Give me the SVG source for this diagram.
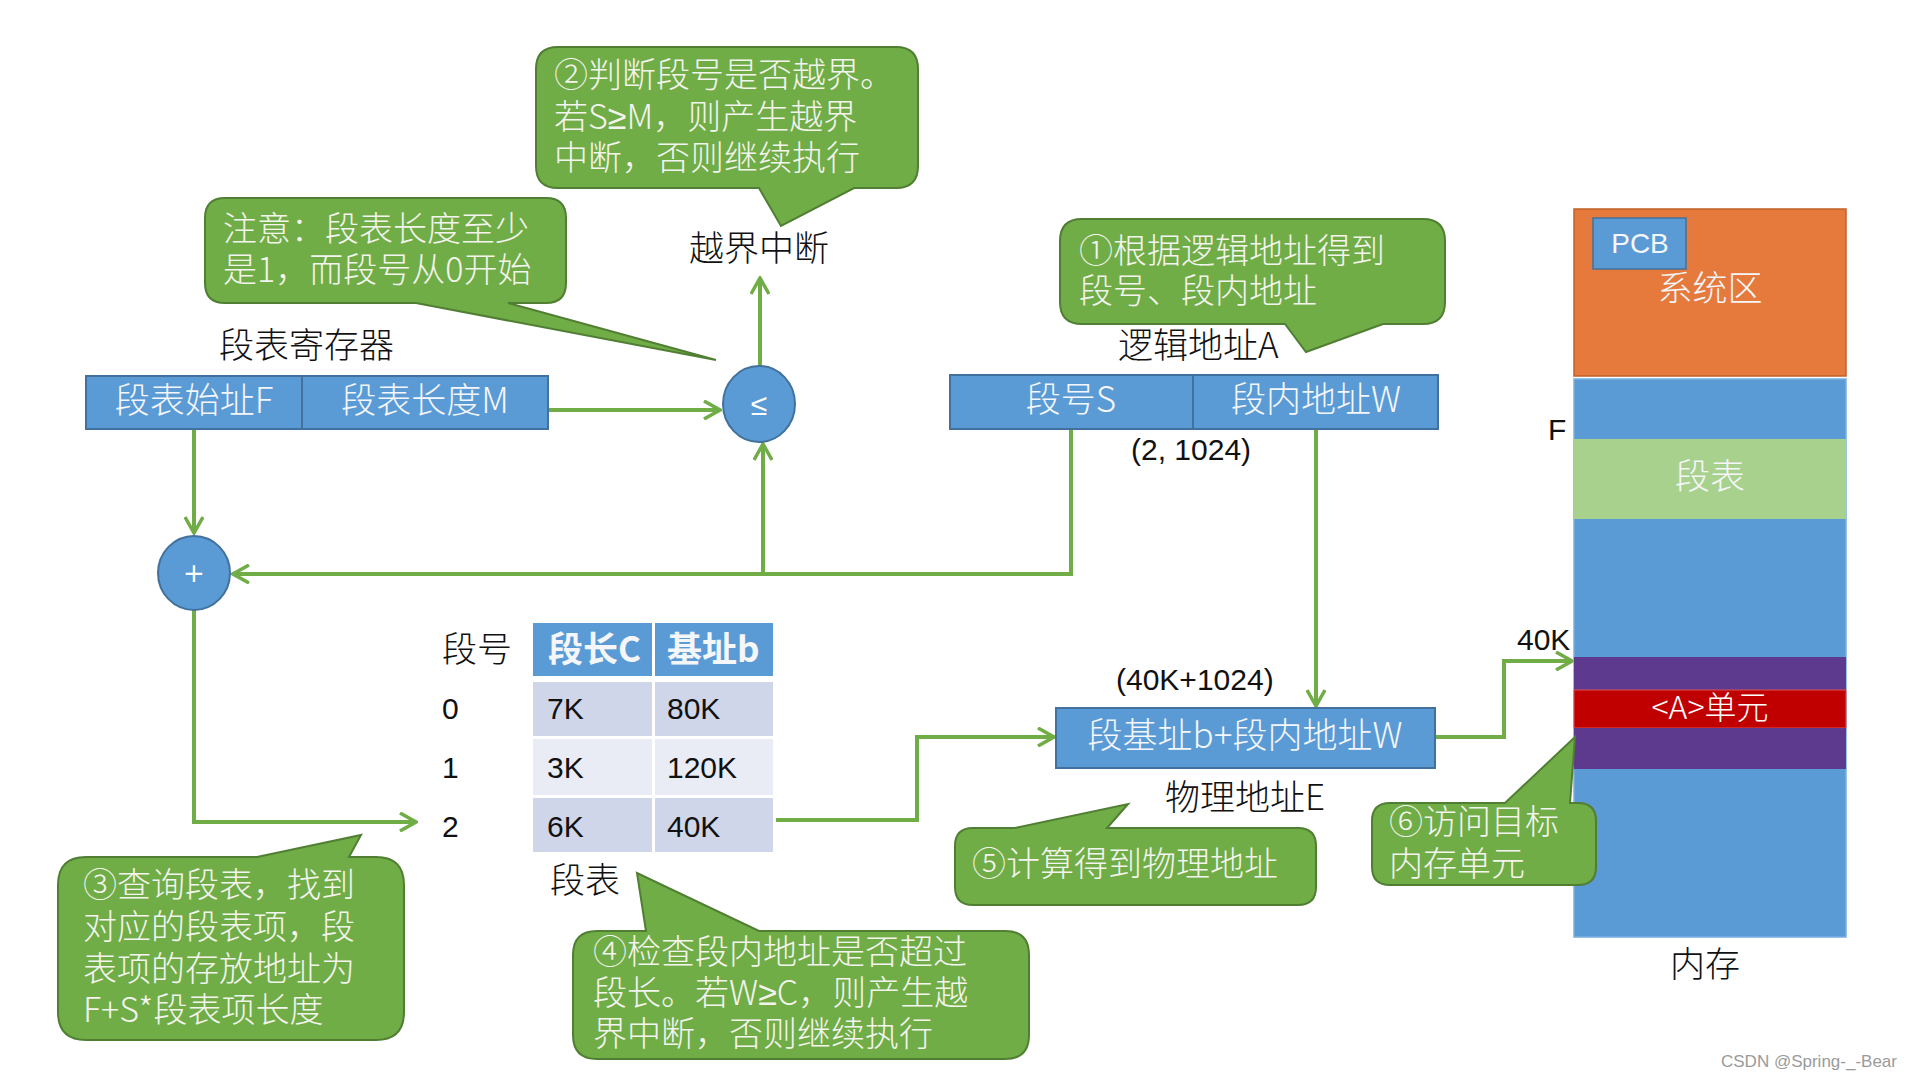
<svg xmlns="http://www.w3.org/2000/svg" width="1920" height="1080" viewBox="0 0 1920 1080">
<defs>
<style>
.cjk{font-family:"Noto Sans CJK SC","Noto Sans",sans-serif;font-weight:300}
.bub{fill:#70ad47;stroke:#507e32;stroke-width:2}
.bt{font-family:"Noto Sans CJK SC","Noto Sans",sans-serif;font-weight:300;font-size:34px;fill:#f4f4ee}
.lbl{font-family:"Noto Sans CJK SC","Noto Sans",sans-serif;font-weight:300;font-size:35px;fill:#111}
.num{font-family:"Liberation Sans","DejaVu Sans",sans-serif;font-size:30px;fill:#111}
.box{fill:#5b9bd5;stroke:#41719c;stroke-width:2}
.wt{font-family:"Noto Sans CJK SC","Noto Sans",sans-serif;font-weight:300;font-size:35px;fill:#f4f6fa}
.con{fill:none;stroke:#70ad47;stroke-width:4}
.ge{font-family:"Liberation Sans","DejaVu Sans",sans-serif}
</style>
<marker id="ah" viewBox="0 0 20 20" refX="18" refY="10" markerWidth="20" markerHeight="20" markerUnits="userSpaceOnUse" orient="auto">
<path d="M2,1 L18,10 L2,19" fill="none" stroke="#70ad47" stroke-width="3.5"/>
</marker>
</defs>
<rect width="1920" height="1080" fill="#ffffff"/>

<g id="connectors">
<path class="con" d="M548,410 H720" marker-end="url(#ah)"/>
<path class="con" d="M760,366 V278" marker-end="url(#ah)"/>
<path class="con" d="M194,429 V533" marker-end="url(#ah)"/>
<path class="con" d="M1071,429 V574 H233" marker-end="url(#ah)"/>
<path class="con" d="M763,574 V444" marker-end="url(#ah)"/>
<path class="con" d="M1316,429 V706" marker-end="url(#ah)"/>
<path class="con" d="M194,610 V822 H416" marker-end="url(#ah)"/>
<path class="con" d="M776,820 H917 V737 H1054" marker-end="url(#ah)"/>
<path class="con" d="M1435,737 H1504 V661 H1572" marker-end="url(#ah)"/>
</g>

<g id="bubble2">
<path class="bub" d="M558,47 H896 Q918,47 918,69 V166 Q918,188 896,188 H854 L781,226 L759,188 H558 Q536,188 536,166 V69 Q536,47 558,47 Z"/>
<text class="bt" x="554" y="87">②判断段号是否越界。</text>
<text class="bt" x="554" y="129">若S<tspan class="ge">≥</tspan>M，则产生越界</text>
<text class="bt" x="554" y="170">中断，否则继续执行</text>
</g>

<g id="overflow-label"><text class="lbl" x="689" y="261">越界中断</text></g>

<g id="bubble-note">
<path class="bub" d="M225,198 H546 Q566,198 566,218 V283 Q566,303 546,303 H508 L716,360 L416,303 H225 Q205,303 205,283 V218 Q205,198 225,198 Z"/>
<text class="bt" x="223" y="241">注意：段表长度至少</text>
<text class="bt" x="223" y="282">是1，而段号从0开始</text>
</g>

<g id="register">
<text class="lbl" x="219" y="358">段表寄存器</text>
<rect class="box" x="86" y="376" width="216" height="53"/>
<rect class="box" x="302" y="376" width="246" height="53"/>
<text class="wt" x="194" y="413" text-anchor="middle">段表始址F</text>
<text class="wt" x="425" y="413" text-anchor="middle">段表长度M</text>
</g>

<g id="compare">
<ellipse class="box" cx="759" cy="404" rx="36" ry="38"/>
<text x="759" y="415" text-anchor="middle" font-family="Liberation Sans, sans-serif" font-size="30" fill="#ffffff">≤</text>
</g>

<g id="adder">
<ellipse class="box" cx="194" cy="573" rx="36" ry="37"/>
<text x="194" y="582" text-anchor="middle" font-family="DejaVu Sans, sans-serif" font-size="26" fill="#ffffff">+</text>
</g>

<g id="logical">
<text class="lbl" x="1118" y="358">逻辑地址A</text>
<rect class="box" x="950" y="375" width="243" height="54"/>
<rect class="box" x="1193" y="375" width="245" height="54"/>
<text class="wt" x="1071" y="412" text-anchor="middle">段号S</text>
<text class="wt" x="1316" y="412" text-anchor="middle">段内地址W</text>
<text class="num" x="1131" y="460">(2, 1024)</text>
</g>

<g id="bubble1">
<path class="bub" d="M1082,219 H1423 Q1445,219 1445,241 V302 Q1445,324 1423,324 H1383 L1306,352 L1285,324 H1082 Q1060,324 1060,302 V241 Q1060,219 1082,219 Z"/>
<text class="bt" x="1079" y="263">①根据逻辑地址得到</text>
<text class="bt" x="1079" y="303">段号、段内地址</text>
</g>

<g id="segtable">
<text class="lbl" x="442" y="662">段号</text>
<rect x="533" y="623" width="119" height="53" fill="#5b9bd5"/>
<rect x="655" y="623" width="118" height="53" fill="#5b9bd5"/>
<text class="wt" x="548" y="662" style="font-weight:700">段长C</text>
<text class="wt" x="667" y="662" style="font-weight:700">基址b</text>
<rect x="533" y="682" width="119" height="54" fill="#cfd6ea"/>
<rect x="655" y="682" width="118" height="54" fill="#cfd6ea"/>
<rect x="533" y="739" width="119" height="56" fill="#e9ecf5"/>
<rect x="655" y="739" width="118" height="56" fill="#e9ecf5"/>
<rect x="533" y="798" width="119" height="54" fill="#cfd6ea"/>
<rect x="655" y="798" width="118" height="54" fill="#cfd6ea"/>
<text class="num" x="442" y="719">0</text>
<text class="num" x="547" y="719">7K</text>
<text class="num" x="667" y="719">80K</text>
<text class="num" x="442" y="778">1</text>
<text class="num" x="547" y="778">3K</text>
<text class="num" x="667" y="778">120K</text>
<text class="num" x="442" y="837">2</text>
<text class="num" x="547" y="837">6K</text>
<text class="num" x="667" y="837">40K</text>
<text class="lbl" x="550" y="893">段表</text>
</g>

<g id="physical">
<text class="num" x="1116" y="690">(40K+1024)</text>
<rect class="box" x="1056" y="708" width="379" height="60"/>
<text class="wt" x="1245" y="748" text-anchor="middle">段基址b+段内地址W</text>
<text class="lbl" x="1165" y="810">物理地址E</text>
</g>

<g id="bubble5">
<path class="bub" d="M973,828 H1015 L1128,804 L1107,828 H1298 Q1316,828 1316,846 V887 Q1316,905 1298,905 H973 Q955,905 955,887 V846 Q955,828 973,828 Z"/>
<text class="bt" x="972" y="876">⑤计算得到物理地址</text>
</g>

<g id="memory">
<rect x="1574" y="209" width="272" height="167" fill="#e57a3c" stroke="#c0622a" stroke-width="1.5"/>
<rect x="1593" y="218" width="93" height="51" fill="#5b9bd5" stroke="#41719c" stroke-width="1.5"/>
<text x="1640" y="253" text-anchor="middle" font-family="Liberation Sans, sans-serif" font-size="28" fill="#f4f6fa">PCB</text>
<text class="wt" x="1710" y="301" text-anchor="middle">系统区</text>
<rect x="1574" y="379" width="272" height="558" fill="#5b9bd5" stroke="#7aaee0" stroke-width="1.5"/>
<rect x="1574" y="439" width="272" height="80" fill="#a9d18e"/>
<text class="wt" x="1710" y="489" text-anchor="middle">段表</text>
<rect x="1574" y="657" width="272" height="33" fill="#5e3a8f"/>
<rect x="1574" y="690" width="272" height="38" fill="#c00000" stroke="#e05050" stroke-width="1"/>
<rect x="1574" y="728" width="272" height="41" fill="#5e3a8f"/>
<text x="1710" y="719" text-anchor="middle" class="cjk" font-size="32" fill="#ffffff">&lt;A&gt;单元</text>
<text class="num" x="1548" y="440">F</text>
<text class="num" x="1517" y="650">40K</text>
<text class="lbl" x="1670" y="977">内存</text>
</g>

<g id="bubble6">
<path class="bub" d="M1390,803 H1505 L1575,737 L1570,803 H1578 Q1596,803 1596,821 V867 Q1596,885 1578,885 H1390 Q1372,885 1372,867 V821 Q1372,803 1390,803 Z"/>
<text class="bt" x="1389" y="834">⑥访问目标</text>
<text class="bt" x="1389" y="876">内存单元</text>
</g>

<g id="bubble3">
<path class="bub" d="M86,857 H257 L361,835 L349,857 H376 Q404,857 404,885 V1012 Q404,1040 376,1040 H86 Q58,1040 58,1012 V885 Q58,857 86,857 Z"/>
<text class="bt" x="83" y="897">③查询段表，找到</text>
<text class="bt" x="83" y="939">对应的段表项，段</text>
<text class="bt" x="83" y="981">表项的存放地址为</text>
<text class="bt" x="83" y="1022">F+S*段表项长度</text>
</g>

<g id="bubble4">
<path class="bub" d="M597,931 H646 L637,873 L759,931 H1005 Q1029,931 1029,955 V1035 Q1029,1059 1005,1059 H597 Q573,1059 573,1035 V955 Q573,931 597,931 Z"/>
<text class="bt" x="593" y="964">④检查段内地址是否超过</text>
<text class="bt" x="593" y="1005">段长。若W<tspan class="ge">≥</tspan>C，则产生越</text>
<text class="bt" x="593" y="1046">界中断，否则继续执行</text>
</g>

<g id="watermark"><text x="1721" y="1067" font-family="Liberation Sans, sans-serif" font-size="17" fill="#9a9a9a">CSDN @Spring-_-Bear</text></g>
</svg>
